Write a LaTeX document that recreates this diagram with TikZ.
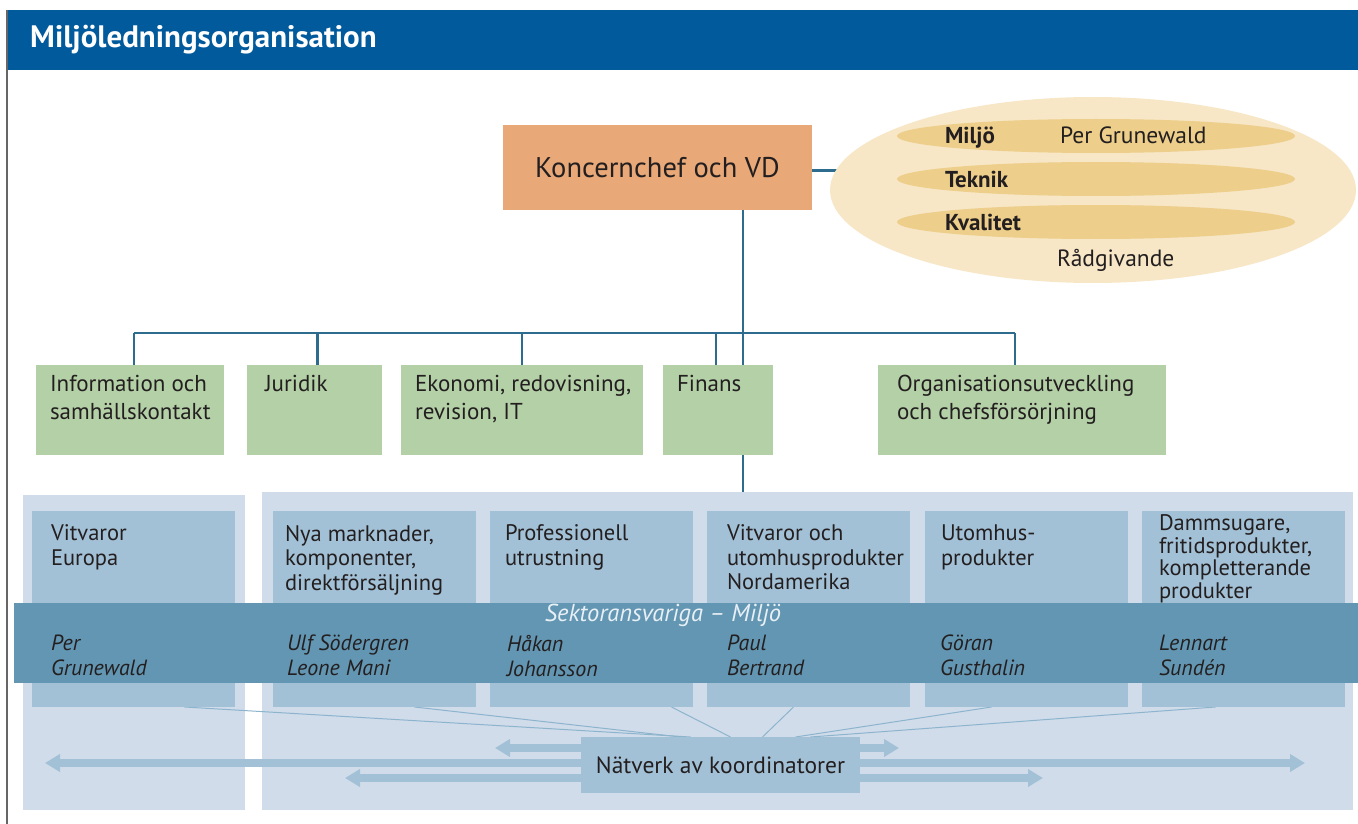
\documentclass[tikz,border=0pt]{standalone}
\usepackage{fontspec}
\setmainfont{PT Sans}
\usetikzlibrary{shapes.geometric,arrows.meta,positioning}

\pgfdeclarelayer{panels}
\pgfdeclarelayer{links}
\pgfsetlayers{panels,links,main}

\begin{document}
\begin{tikzpicture}[x=1pt,y=-1pt,
    box/.style={inner sep=0, outer sep=0, anchor=north west},
    txt/.style={inner sep=0, outer sep=0, anchor=north west, align=left, text=custcol_txt, font=\fontsize{23}{28}\selectfont},
    stxt/.style={txt, font=\fontsize{22.5}{24.5}\selectfont},
    ntxt/.style={txt, font=\fontsize{22}{25}\selectfont\itshape},
    etxt/.style={inner sep=0, outer sep=0, anchor=base west, text=custcol_txt, font=\fontsize{23.5}{24}\selectfont},
    gbox/.style={box, fill=custcol_green, minimum height=90},
    sbox/.style={box, fill=custcol_sbox, minimum width=203, minimum height=196},
    orgline/.style={draw=custcol_line, line width=2.5pt},
    netline/.style={draw=custcol_nline, line width=1pt},
    netarrow/.style={draw=custcol_sbox, line width=8pt, {Triangle[length=15pt,width=17pt]}-{Triangle[length=15pt,width=17pt]}}]
  \definecolor{custcol_hd}{RGB}{0, 90, 156}
  \definecolor{custcol_vd}{RGB}{232, 168, 119}
  \definecolor{custcol_line}{RGB}{45, 107, 143}
  \definecolor{custcol_adv}{RGB}{247, 231, 198}
  \definecolor{custcol_advin}{RGB}{237, 206, 138}
  \definecolor{custcol_green}{RGB}{180, 208, 166}
  \definecolor{custcol_panel}{RGB}{208, 220, 234}
  \definecolor{custcol_sbox}{RGB}{163, 193, 214}
  \definecolor{custcol_band}{RGB}{99, 150, 178}
  \definecolor{custcol_nline}{RGB}{140, 180, 205}
  \definecolor{custcol_txt}{RGB}{35, 31, 32}
  \definecolor{custcol_bandtxt}{RGB}{232, 240, 246}
  \useasboundingbox (0,0) rectangle (1358,824);

  % header
  \node[box, fill=custcol_hd, minimum width=1351, minimum height=60] (hdr) at (7,10) {};
  \node[inner sep=0, anchor=base west, text=white, font=\fontsize{31}{34}\selectfont\bfseries] (ttl) at (30,48) {Miljöledningsorganisation};
  \draw[line width=1.5pt, black!60] (hdr.north west) -- (7,824);

  % top
  \node[box, fill=custcol_vd, minimum width=309, minimum height=85, text=custcol_txt, font=\fontsize{28.5}{32}\selectfont] (vd) at (503,125) {Koncernchef och VD};
  \node[ellipse, fill=custcol_adv, inner sep=0, minimum width=526, minimum height=186] (advice) at (1093,190) {};
  \node[ellipse, fill=custcol_advin, inner sep=0, minimum width=398, minimum height=34] (eMil) at (1096,136) {};
  \node[ellipse, fill=custcol_advin, inner sep=0, minimum width=398, minimum height=34] (eTek) at (1096,179) {};
  \node[ellipse, fill=custcol_advin, inner sep=0, minimum width=398, minimum height=34] (eKva) at (1096,222) {};
  \node[etxt, font=\fontsize{23}{24}\selectfont\bfseries] (tMil) at (945,144) {Miljö};
  \node[etxt] (tPer) at (1060,144) {Per Grunewald};
  \node[etxt, font=\fontsize{23}{24}\selectfont\bfseries] (tTek) at (945,187) {Teknik};
  \node[etxt, font=\fontsize{23}{24}\selectfont\bfseries] (tKva) at (945,230) {Kvalitet};
  \node[etxt] (tRad) at (1057,266) {Rådgivande};

  % staff functions
  \node[gbox, minimum width=188] (info) at (36,365) {};
  \node[gbox, minimum width=135] (jur) at (247,365) {};
  \node[gbox, minimum width=242] (eko) at (401,365) {};
  \node[gbox, minimum width=110] (fin) at (663,365) {};
  \node[gbox, minimum width=288] (org) at (878,365) {};
  \node[txt] (infoT) at ([shift={(14,10)}]info.north west) {Information och\\samhällskontakt};
  \node[txt] (jurT) at ([shift={(18,10)}]jur.north west) {Juridik};
  \node[txt] (ekoT) at ([shift={(14,10)}]eko.north west) {Ekonomi, redovisning,\\revision, IT};
  \node[txt] (finT) at ([shift={(14,10)}]fin.north west) {Finans};
  \node[txt] (orgT) at ([shift={(19,10)}]org.north west) {Organisationsutveckling\\och chefsförsörjning};

  % sectors
  \begin{pgfonlayer}{panels}
    \node[box, fill=custcol_panel, minimum width=222, minimum height=315] (lpanel) at (23,495) {};
    \node[box, fill=custcol_panel, minimum width=1091, minimum height=318] (rpanel) at (262,492) {};
  \end{pgfonlayer}
  \node[sbox] (sEu) at (32,511) {};
  \node[sbox] (sNy) at (273,511) {};
  \node[sbox] (sPr) at (490,511) {};
  \node[sbox] (sVi) at (707,511) {};
  \node[sbox] (sUt) at (925,511) {};
  \node[sbox] (sDa) at (1142,511) {};
  \node[box, fill=custcol_band, minimum width=1344, minimum height=80] (band) at (14,603) {};
  \node[inner sep=0, anchor=base, text=custcol_bandtxt, font=\fontsize{24.5}{26}\selectfont\itshape] (bandT) at (663,621) {Sektoransvariga -- Miljö};

  \node[stxt] (sEuT) at ([shift={(19,14)}]sEu.north west) {Vitvaror\\Europa};
  \node[stxt] (sNyT) at ([shift={(12,14)}]sNy.north west) {Nya marknader,\\komponenter,\\direktförsäljning};
  \node[stxt] (sPrT) at ([shift={(15,14)}]sPr.north west) {Professionell\\utrustning};
  \node[stxt] (sViT) at ([shift={(20,14)}]sVi.north west) {Vitvaror och\\utomhusprodukter\\Nordamerika};
  \node[stxt] (sUtT) at ([shift={(16,14)}]sUt.north west) {Utomhus-\\produkter};
  \node[stxt, font=\fontsize{22.5}{22.5}\selectfont] (sDaT) at ([shift={(17,4)}]sDa.north west) {Dammsugare,\\fritidsprodukter,\\kompletterande\\produkter};

  \node[ntxt] (sEuN) at ([shift={(19,124)}]sEu.north west) {Per\\Grunewald};
  \node[ntxt] (sNyN) at ([shift={(14,124)}]sNy.north west) {Ulf Södergren\\Leone Mani};
  \node[ntxt] (sPrN) at ([shift={(17,124)}]sPr.north west) {Håkan\\Johansson};
  \node[ntxt] (sViN) at ([shift={(20,124)}]sVi.north west) {Paul\\Bertrand};
  \node[ntxt] (sUtN) at ([shift={(15,124)}]sUt.north west) {Göran\\Gusthalin};
  \node[ntxt] (sDaN) at ([shift={(17,124)}]sDa.north west) {Lennart\\Sundén};

  % network
  \node[box, fill=custcol_sbox, minimum width=279, minimum height=56, text=custcol_txt, font=\fontsize{23.5}{26}\selectfont] (net) at (581,737) {Nätverk av koordinatorer};
  \coordinate (a1w) at (495,748);
  \coordinate (a1e) at (899,748);
  \coordinate (a2w) at (45,763);
  \coordinate (a2e) at (1305,763);
  \coordinate (a3w) at (345,778);
  \coordinate (a3e) at (1043,778);
  \coordinate (trunk) at (743,333);

  \begin{pgfonlayer}{links}
    \draw[orgline] ([yshift=-3pt]vd.east) -- ([yshift=-3pt]vd.east -| advice.center);
    \draw[orgline] (vd.south -| trunk) -- (fin.north -| trunk);
    \draw[orgline] (fin.south -| trunk) -- (rpanel.north -| trunk);
    \draw[orgline] ([xshift=4pt]info.north |- trunk) -- ([xshift=-7pt]org.north |- trunk);
    \foreach \b/\dx in {info/4, jur/3, eko/0, fin/-2, org/-7}
      \draw[orgline] ([xshift=\dx pt]\b.north) -- ([xshift=\dx pt]\b.north |- trunk);
    \foreach \s/\dx/\ex in {sEu/51/-30, sNy/40/-40, sPr/80/10, sVi/-15/42, sUt/-35/75, sDa/-28/90}
      \draw[netline] ([xshift=\dx pt]\s.south) -- ([xshift=\ex pt]net.north);
    \draw[netarrow] (a1w) -- (a1e);
    \draw[netarrow] (a2w) -- (a2e);
    \draw[netarrow] (a3w) -- (a3e);
  \end{pgfonlayer}
\end{tikzpicture}
\end{document}
